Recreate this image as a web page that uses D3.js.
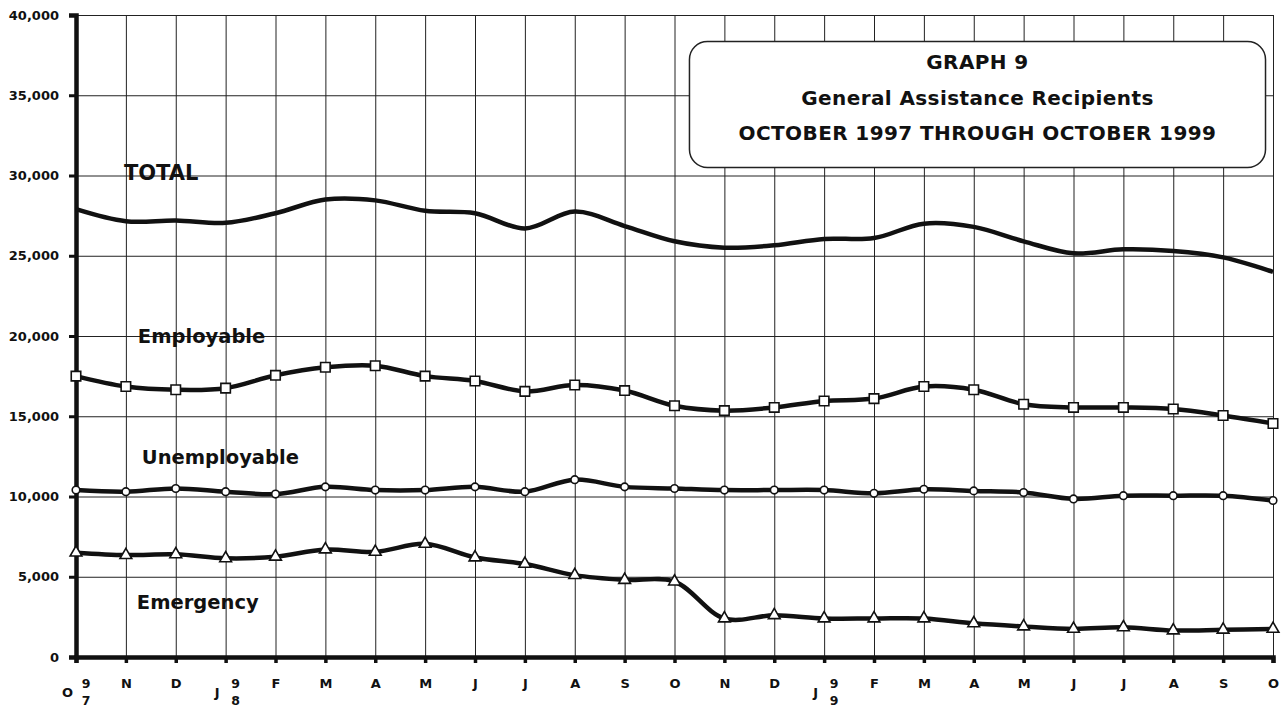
<!DOCTYPE html>
<html>
<head>
<meta charset="utf-8">
<script src="https://cdn.jsdelivr.net/npm/d3@7"></script>
<style>
  body { margin: 0; background: #fff; }
  svg text { font-family: "DejaVu Sans", sans-serif; font-weight: bold; fill: #111; }
</style>
</head>
<body>
<div id="chart"></div>
<script>
// Monthly figures, October 1997 through October 1999
const months = ["O","N","D","J","F","M","A","M","J","J","A","S","O","N","D","J","F","M","A","M","J","J","A","S","O"];
const yearAt = [0, 3, 15];
const yearDigits = ["97", "98", "99"];

const totalValues = [27900, 27150, 27200, 27050, 27650, 28500, 28450, 27800, 27650, 26700, 27750, 26850, 25900,
                     25500, 25650, 26050, 26100, 27000, 26800, 25900, 25150, 25400, 25300, 24900, 24000];
const employableValues = [17500, 16850, 16650, 16750, 17550, 18050, 18150, 17500, 17200, 16550, 16950, 16600, 15650,
                          15350, 15550, 15950, 16100, 16850, 16650, 15750, 15550, 15550, 15450, 15050, 14550];
const unemployableValues = [10400, 10300, 10500, 10300, 10150, 10600, 10400, 10400, 10600, 10300, 11050, 10600, 10500,
                            10400, 10400, 10400, 10200, 10450, 10350, 10250, 9850, 10050, 10050, 10050, 9750];
const emergencyValues = [6500, 6350, 6400, 6150, 6250, 6700, 6550, 7050, 6200, 5800, 5100, 4800, 4700,
                         2400, 2600, 2400, 2400, 2400, 2100, 1900, 1750, 1850, 1650, 1700, 1750];

const yTicks = [0, 5000, 10000, 15000, 20000, 25000, 30000, 35000, 40000];
const titleLines = ["GRAPH 9", "General Assistance Recipients", "OCTOBER 1997 THROUGH OCTOBER 1999"];

class RecipientsChart {
    constructor(_config) {
        this.config = {
            parentElement: _config.parentElement,
            containerWidth: _config.containerWidth || 1284,
            containerHeight: _config.containerHeight || 709,
            margin: { top: 15, right: 11, bottom: 52, left: 76 }
        };
        this.initVis();
    }

    initVis() {
        const vis = this;
        const m = vis.config.margin;
        vis.width = vis.config.containerWidth - m.left - m.right;
        vis.height = vis.config.containerHeight - m.top - m.bottom;

        vis.svg = d3.select(vis.config.parentElement).append("svg")
            .attr("width", vis.config.containerWidth)
            .attr("height", vis.config.containerHeight)
            .append("g")
            .attr("transform", `translate(${m.left}, ${m.top})`);

        vis.xScale = d3.scaleLinear().domain([0, months.length - 1]).range([0, vis.width]);
        vis.yScale = d3.scaleLinear().domain([0, 40000]).range([vis.height, 0]);
    }

    renderVis() {
        const vis = this;
        const x = vis.xScale, y = vis.yScale;
        const idx = d3.range(months.length);

        // grid
        vis.svg.append("g").call(d3.axisBottom(x).tickValues(idx).tickSize(-vis.height).tickFormat(""))
            .attr("transform", `translate(0, ${vis.height})`)
            .call(g => g.select(".domain").remove())
            .selectAll("line").attr("stroke", "#222").attr("stroke-width", 1);
        vis.svg.append("g").call(d3.axisLeft(y).tickValues(yTicks).tickSize(-vis.width).tickFormat(""))
            .call(g => g.select(".domain").remove())
            .selectAll("line").attr("stroke", "#222").attr("stroke-width", 1);

        // y axis
        const yAxisG = vis.svg.append("g").call(d3.axisLeft(y).tickValues(yTicks).tickSize(7).tickPadding(10).tickFormat(d3.format(",")));
        yAxisG.select(".domain").attr("stroke", "#111").attr("stroke-width", 4.5);
        yAxisG.selectAll("line").attr("stroke", "#111").attr("stroke-width", 3);
        yAxisG.selectAll("text").attr("font-size", 13).attr("fill", "#111")
            .attr("font-family", "DejaVu Sans").attr("font-weight", "bold");

        // x axis
        const xAxisG = vis.svg.append("g")
            .attr("transform", `translate(0, ${vis.height})`)
            .call(d3.axisBottom(x).tickValues(idx).tickSize(6).tickPadding(18).tickFormat(i => months[i]));
        xAxisG.select(".domain").attr("stroke", "#111").attr("stroke-width", 4.5);
        xAxisG.selectAll("line").attr("stroke", "#111").attr("stroke-width", 3.5);
        xAxisG.selectAll("text").attr("font-size", 13).attr("fill", "#111")
            .attr("font-family", "DejaVu Sans").attr("font-weight", "bold")
            .attr("dy", "0")
            .attr("y", d => yearAt.includes(d) ? 40 : 31)
            .attr("x", d => yearAt.includes(d) ? -9 : 0);

        // stacked year digits beside the January / October labels
        yearAt.forEach((i, k) => {
            const g = xAxisG.append("g").attr("transform", `translate(${x(i) + 10}, 0)`);
            g.append("text").attr("text-anchor", "middle").attr("font-size", 12.5).attr("y", 31).text(yearDigits[k][0]);
            g.append("text").attr("text-anchor", "middle").attr("font-size", 12.5).attr("y", 48).text(yearDigits[k][1]);
        });

        const line = d3.line()
            .x((d, i) => x(i))
            .y(d => y(d))
            .curve(d3.curveCatmullRom.alpha(0.5));

        const series = [
            { values: totalValues, marker: null },
            { values: employableValues, marker: "square" },
            { values: unemployableValues, marker: "circle" },
            { values: emergencyValues, marker: "triangle" }
        ];

        series.forEach(s => {
            vis.svg.append("path")
                .datum(s.values)
                .attr("fill", "none")
                .attr("stroke", "#111")
                .attr("stroke-width", 4.5)
                .attr("stroke-linejoin", "round")
                .attr("d", line);

            if (s.marker) {
                const sym = s.marker === "square" ? d3.symbolSquare : s.marker === "circle" ? d3.symbolCircle : d3.symbolTriangle;
                const size = s.marker === "square" ? 90 : s.marker === "circle" ? 45 : 60;
                vis.svg.selectAll(null)
                    .data(s.values)
                    .join("path")
                    .attr("transform", (d, i) => `translate(${x(i)}, ${y(d)})`)
                    .attr("d", d3.symbol(sym, size))
                    .attr("fill", "#fff")
                    .attr("stroke", "#111")
                    .attr("stroke-width", 1.6);
            }
        });

        // series names written on the chart
        const labels = [
            { text: "TOTAL", i: 0.96, v: 29750, size: 21 },
            { text: "Employable", i: 1.24, v: 19570, size: 19.5 },
            { text: "Unemployable", i: 1.32, v: 12000, size: 19.5 },
            { text: "Emergency", i: 1.22, v: 2980, size: 19.5 }
        ];
        vis.svg.selectAll(".series-label")
            .data(labels)
            .join("text")
            .attr("class", "series-label")
            .attr("x", d => x(d.i))
            .attr("y", d => y(d.v))
            .attr("font-size", d => d.size)
            .text(d => d.text);

        // title box
        const box = vis.svg.append("g");
        box.append("rect")
            .attr("x", x(12.3)).attr("y", y(38350))
            .attr("width", x(23.85) - x(12.3)).attr("height", y(30500) - y(38350))
            .attr("rx", 18).attr("ry", 18)
            .attr("fill", "#fff").attr("stroke", "#222").attr("stroke-width", 1.5);
        box.selectAll("text")
            .data(titleLines)
            .join("text")
            .attr("x", (x(12.3) + x(23.85)) / 2)
            .attr("y", (d, i) => y(38350) + 28 + i * 35.5)
            .attr("text-anchor", "middle")
            .attr("font-size", 20)
            .attr("letter-spacing", 0.4)
            .text(d => d);
    }
}

const chart = new RecipientsChart({ parentElement: "#chart", containerWidth: 1284, containerHeight: 709 });
chart.renderVis();
</script>
</body>
</html>
